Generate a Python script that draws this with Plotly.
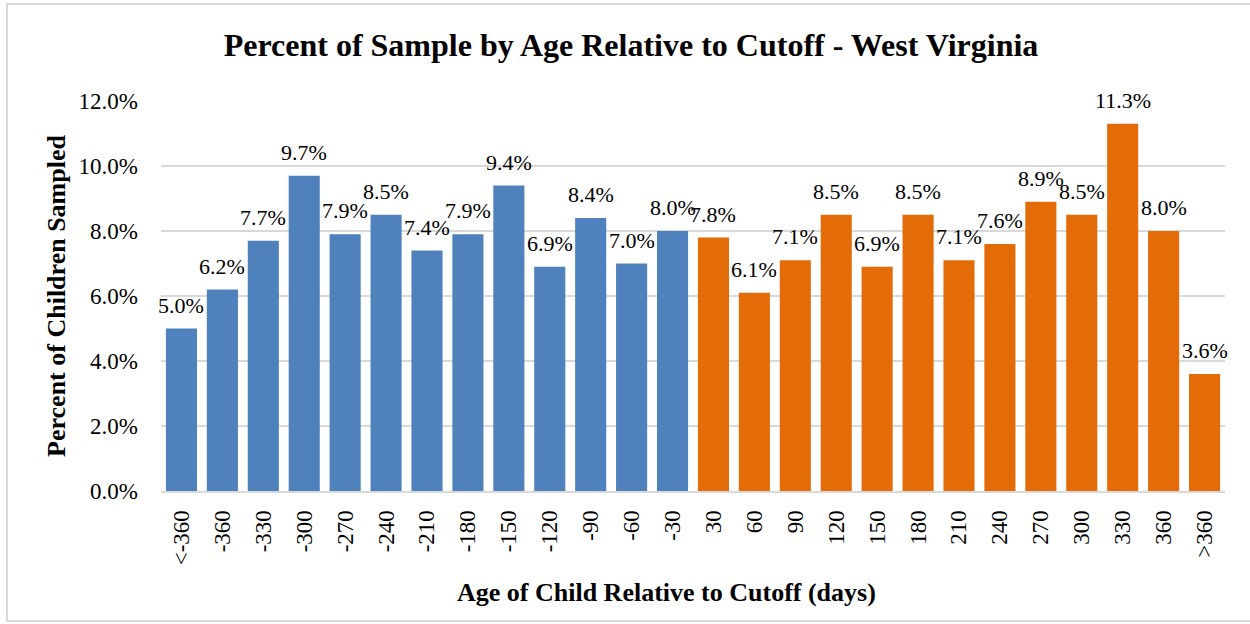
import plotly.graph_objects as go

# Age bins (days relative to the school-entry cutoff)
categories = ["<-360", "-360", "-330", "-300", "-270", "-240", "-210", "-180", "-150",
              "-120", "-90", "-60", "-30", "30", "60", "90", "120", "150", "180",
              "210", "240", "270", "300", "330", "360", ">360"]

# Percent of children sampled in each bin
percent_sampled = [5.0, 6.2, 7.7, 9.7, 7.9, 8.5, 7.4, 7.9, 9.4, 6.9, 8.4, 7.0, 8.0,
                   7.8, 6.1, 7.1, 8.5, 6.9, 8.5, 7.1, 7.6, 8.9, 8.5, 11.3, 8.0, 3.6]

# Bins before the cutoff are blue, bins after it are orange
before_color = "#4F81BD"
after_color = "#E36C09"
bar_colors = [before_color if c.startswith("<") or c.startswith("-") else after_color
              for c in categories]

serif = "Liberation Serif, Times New Roman, serif"

fig = go.Figure(
    go.Bar(
        x=categories,
        y=[v / 100 for v in percent_sampled],
        marker=dict(color=bar_colors, line=dict(width=0)),
        hovertemplate="%{x}: %{y:.1%}<extra></extra>",
    )
)

# Value labels sitting a little above each bar (x given as category index)
value_labels = [
    dict(x=i, y=v / 100, xref="x", yref="y", text=f"{v:.1f}%",
         showarrow=False, yanchor="bottom", xanchor="center", yshift=9,
         font=dict(family=serif, size=22, color="#000000"))
    for i, v in enumerate(percent_sampled)
]

# X-axis title, centred on the chart frame rather than the plot area
x_title = dict(
    text="<b>Age of Child Relative to Cutoff (days)</b>",
    xref="paper", yref="paper", x=(666 - 161) / 1064, y=-(592 - 491) / 390,
    xanchor="center", yanchor="middle", showarrow=False,
    font=dict(family=serif, size=26, color="#000000"),
)

fig.update_layout(
    width=1250,
    height=624,
    paper_bgcolor="white",
    plot_bgcolor="white",
    margin=dict(l=161, r=25, t=101, b=133),
    bargap=0.24,
    showlegend=False,
    title=dict(
        text="<b>Percent of Sample by Age Relative to Cutoff - West Virginia</b>",
        font=dict(family=serif, size=32, color="#000000"),
        x=631 / 1250,
        xref="container",
        xanchor="center",
        y=1 - 45 / 624,
        yref="container",
        yanchor="middle",
        pad=dict(t=0, b=0, l=0, r=0),
    ),
    font=dict(family=serif, color="#000000"),
    annotations=value_labels + [x_title],
    shapes=[
        dict(type="rect", xref="paper", yref="paper",
             x0=-154 / 1064, x1=1090 / 1064, y0=-130 / 390, y1=487 / 390,
             line=dict(color="#D9D9D9", width=2), fillcolor="rgba(0,0,0,0)",
             layer="below"),
    ],
)

fig.update_xaxes(
    type="category",
    categoryorder="array",
    categoryarray=categories,
    range=[-0.5, len(categories) - 0.5],
    tickangle=-90,
    tickfont=dict(family=serif, size=23, color="#000000"),
    showline=True,
    linecolor="#D9D9D9",
    linewidth=2,
    ticks="",
    showgrid=False,
    ticklabelstandoff=8,
)

fig.update_yaxes(
    range=[0, 0.12],
    dtick=0.02,
    tickformat=".1%",
    tickfont=dict(family=serif, size=23, color="#000000"),
    showgrid=True,
    gridcolor="#D9D9D9",
    gridwidth=1.5,
    zeroline=False,
    showline=False,
    ticks="",
    ticklabelstandoff=22,
    title=dict(
        text="<b>Percent of Children Sampled</b>",
        font=dict(family=serif, size=26, color="#000000"),
        standoff=5,
    ),
)

fig.write_html("out.html")
